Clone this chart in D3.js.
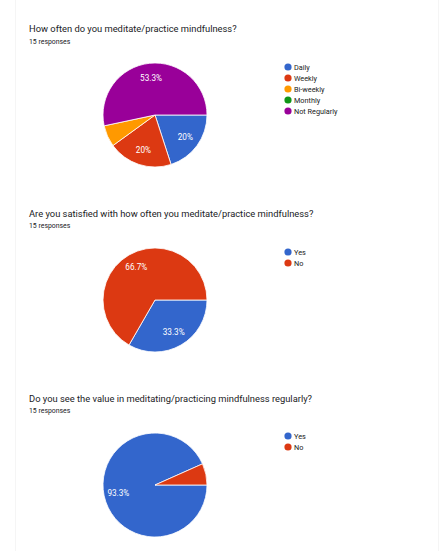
<!DOCTYPE html>
<html><head><meta charset="utf-8">
<script src="https://cdn.jsdelivr.net/npm/d3@7"></script>
<style>
html,body{margin:0;padding:0;background:#fff;}
svg{display:block;font-family:Roboto, Arial, sans-serif;}
</style></head>
<body>
<svg id="c" width="443" height="551"></svg>
<script>
const titles = [
  "How often do you meditate/practice mindfulness?",
  "Are you satisfied with how often you meditate/practice mindfulness?",
  "Do you see the value in meditating/practicing mindfulness regularly?"
];
const responses = ["15 responses","15 responses","15 responses"];
const categories1 = ["Daily","Weekly","Bi-weekly","Monthly","Not Regularly"];
const values1 = [3,3,1,0,8];
const categories2 = ["Yes","No"];
const values2 = [5,10];
const categories3 = ["Yes","No"];
const values3 = [14,1];
const colors1 = ["#3366cc","#dc3912","#ff9900","#109618","#990099"];
const colors2 = ["#3366cc","#dc3912"];

const charts = [
  {cats:categories1, vals:values1, cols:colors1},
  {cats:categories2, vals:values2, cols:colors2},
  {cats:categories3, vals:values3, cols:colors2}
];

const svg = d3.select("#c");
// faint card edges
svg.append("line").attr("x1",15.5).attr("x2",15.5).attr("y1",0).attr("y2",551).attr("stroke","#f5f5f5");
svg.append("line").attr("x1",438.5).attr("x2",438.5).attr("y1",0).attr("y2",551).attr("stroke","#f5f5f5");

const R = 52;
const pie = d3.pie().sort(null).value(d=>d.v).startAngle(Math.PI/2).endAngle(Math.PI/2+2*Math.PI);
const arc = d3.arc().innerRadius(0).outerRadius(R);
const labelArc = d3.arc().innerRadius(R*0.72).outerRadius(R*0.72);

const layout = [
  {titleY:32, subY:44, cy:115, legY:67},
  {titleY:217, subY:228, cy:300, legY:252},
  {titleY:402, subY:413, cy:485, legY:436}
];

charts.forEach((ch,i)=>{
  const L = layout[i];
  const g = svg.append("g");
  g.append("text").attr("x",29).attr("y",L.titleY).attr("font-size",9.35).attr("fill","#202124").text(titles[i]);
  g.append("text").attr("x",29).attr("y",L.subY).attr("font-size",6.9).attr("fill","#202124").text(responses[i]);
  const data = ch.cats.map((c,j)=>({c, v:ch.vals[j], col:ch.cols[j]}));
  const total = d3.sum(ch.vals);
  const pg = g.append("g").attr("transform",`translate(155,${L.cy})`);
  const arcs = pie(data);
  pg.selectAll("path").data(arcs.filter(a=>a.data.v>0)).join("path")
    .attr("d",arc).attr("fill",d=>d.data.col).attr("stroke","#fff").attr("stroke-width",0.8);
  pg.selectAll("text").data(arcs.filter(a=>a.data.v/total>0.1)).join("text")
    .attr("transform",d=>`translate(${labelArc.centroid(d)})`)
    .attr("text-anchor","middle").attr("dy","0.35em")
    .attr("font-size",8.2).attr("fill","#fff")
    .text(d=>{const p=d.data.v/total*100; return (Math.round(p*10)/10)+"%";});
  const lg = g.append("g").attr("transform",`translate(288,${L.legY})`);
  data.forEach((d,j)=>{
    lg.append("circle").attr("cx",0).attr("cy",j*11).attr("r",3.6).attr("fill",d.col);
    lg.append("text").attr("x",6).attr("y",j*11).attr("dy","0.35em").attr("font-size",7.3).attr("fill","#222").text(d.c);
  });
});
</script>
</body></html>
